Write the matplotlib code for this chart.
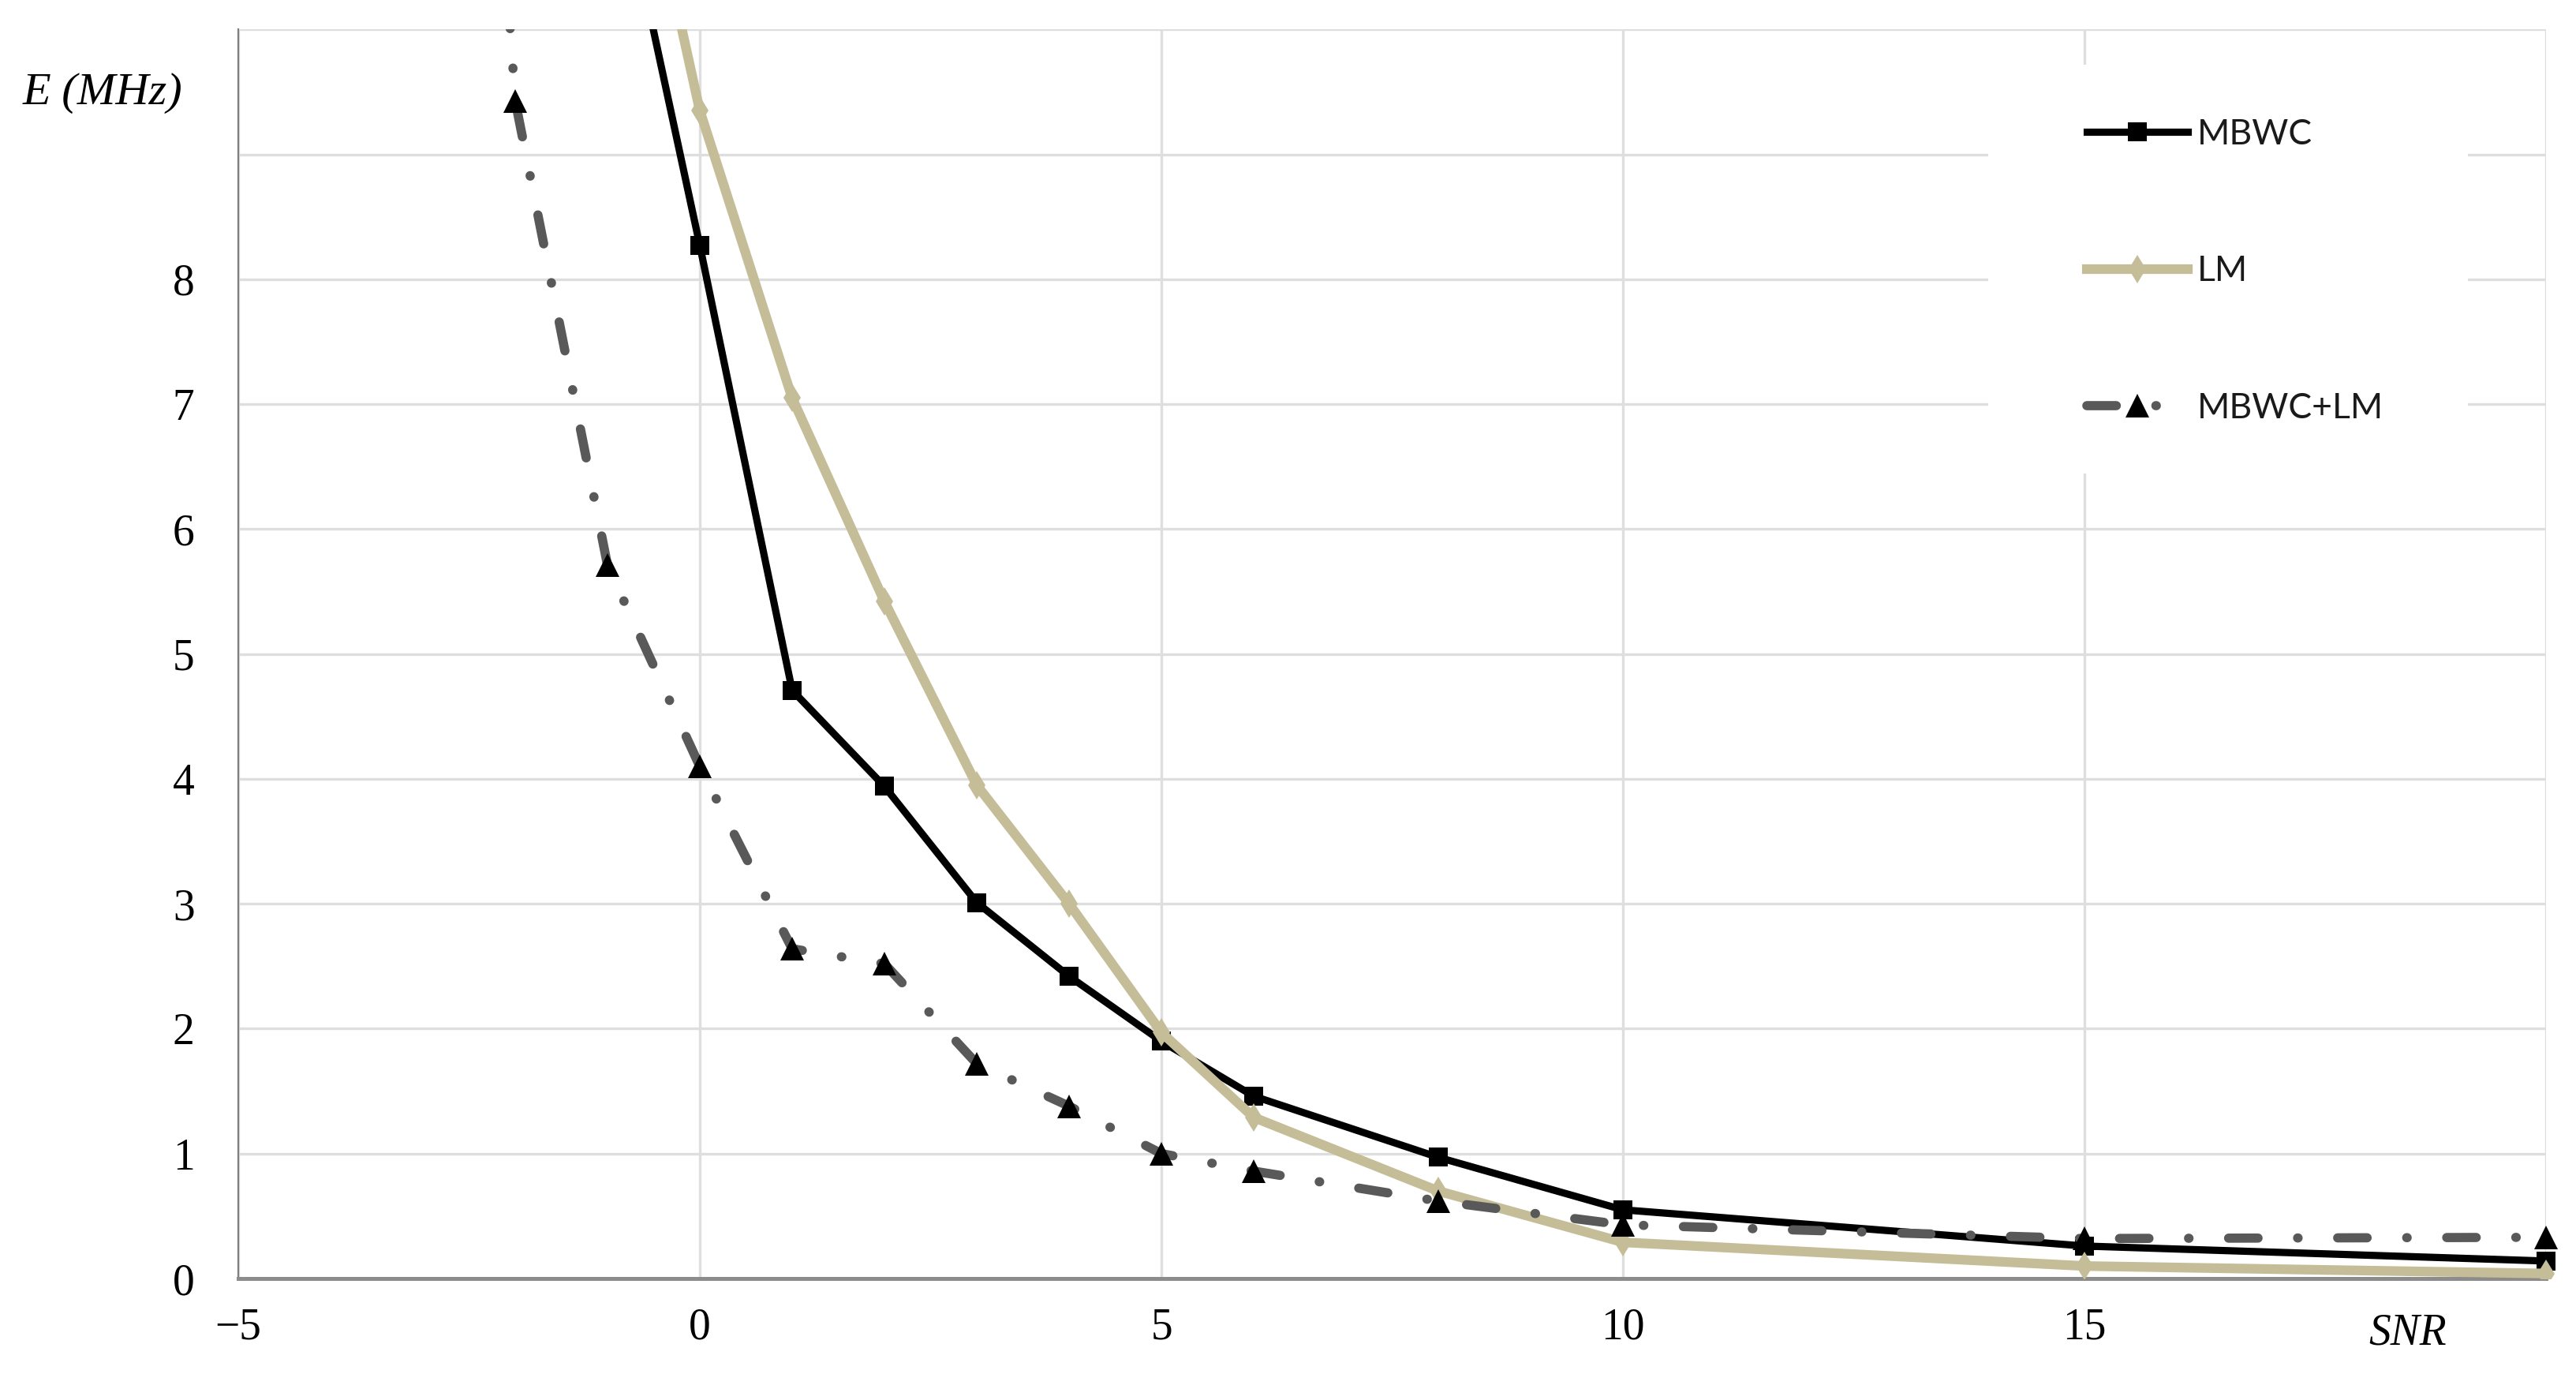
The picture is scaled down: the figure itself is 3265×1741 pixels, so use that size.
import matplotlib.pyplot as plt
from matplotlib.patches import Rectangle

plt.rcParams['font.family'] = 'Liberation Serif'

# data (SNR vs E in MHz)
snr = [-1, 0, 1, 2, 3, 4, 5, 6, 8, 10, 15, 20]
e_mbwc = [11.7, 8.27, 4.71, 3.94, 3.01, 2.42, 1.90, 1.46, 0.97, 0.55, 0.26, 0.14]
e_lm = [12.7, 9.35, 7.05, 5.42, 3.95, 3.00, 1.97, 1.29, 0.70, 0.29, 0.10, 0.04]

snr_both = [-3, -2, -1, 0, 1, 2, 3, 4, 5, 6, 8, 10, 15, 20]
e_both = [20.0, 9.43, 5.71, 4.10, 2.64, 2.52, 1.72, 1.38, 1.00, 0.86, 0.62, 0.43, 0.32, 0.33]

x_ticks = [-5, 0, 5, 10, 15, 20]
x_labels = ['\u22125', '0', '5', '10', '15', '']
y_ticks = list(range(0, 11))
y_labels = ['0', '1', '2', '3', '4', '5', '6', '7', '8', '', '']

fig = plt.figure(figsize=(16.325, 8.705), dpi=200)
ax = fig.add_axes([0.0925, 0.0695, 0.8959, 0.909])

l1, = ax.plot(snr, e_mbwc, color='black', lw=3.3, marker='s', ms=8.3,
              mew=0, label='MBWC', zorder=3)
l2, = ax.plot(snr, e_lm, color='#c4bd97', lw=4.4, marker='d', ms=9,
              mew=0, label='LM', zorder=4)
l3, = ax.plot(snr_both, e_both, color='#595959', lw=4.2,
              dashes=(3.2, 4.3, 0.05, 4.3), dash_capstyle='round',
              marker='^', ms=10.5, mfc='black', mec='black', mew=0,
              label='MBWC+LM', zorder=5)

# let the end markers at SNR=20 spill past the right edge
clip = Rectangle((0, 0), 1.02, 1, transform=ax.transAxes)
for line in (l1, l2, l3):
    line.set_clip_path(clip)

ax.set_xlim(-5, 20)
ax.set_ylim(0, 10)
ax.set_xticks(x_ticks)
ax.set_xticklabels(x_labels)
ax.set_yticks(y_ticks)
ax.set_yticklabels(y_labels)
ax.tick_params(length=0, labelsize=20)
ax.tick_params(axis='y', pad=20)
ax.tick_params(axis='x', pad=13)

ax.grid(True, color='#dedede', lw=1.2)
ax.set_axisbelow(True)
for s in ['top', 'right']:
    ax.spines[s].set_visible(False)
ax.spines['left'].set_color('#7f7f7f')
ax.spines['left'].set_linewidth(0.8)
ax.spines['bottom'].set_color('#8c8c8c')
ax.spines['bottom'].set_linewidth(1.8)

# white box behind the legend hides the gridlines
ax.add_patch(Rectangle((0.7583, 0.6443), 0.2079, 0.3273, transform=ax.transAxes,
                       facecolor='white', edgecolor='none', zorder=1))
ax.legend(loc='upper left', bbox_to_anchor=(0.801, 0.929), frameon=False,
          prop={'family': 'Lato', 'size': 16}, handlelength=2.87,
          handletextpad=0.27, labelspacing=2.98, borderpad=0,
          borderaxespad=0, numpoints=1, labelcolor='#1a1a1a')

ax.text(-0.0588, 0.9488, 'E (MHz)', transform=ax.transAxes, ha='center',
        va='center', fontsize=21, style='italic')
ax.text(18.5, -0.0442, 'SNR', transform=ax.get_xaxis_transform(), ha='center',
        va='center', fontsize=20, style='italic')

fig.savefig('out.png', dpi=200)
plt.close()
